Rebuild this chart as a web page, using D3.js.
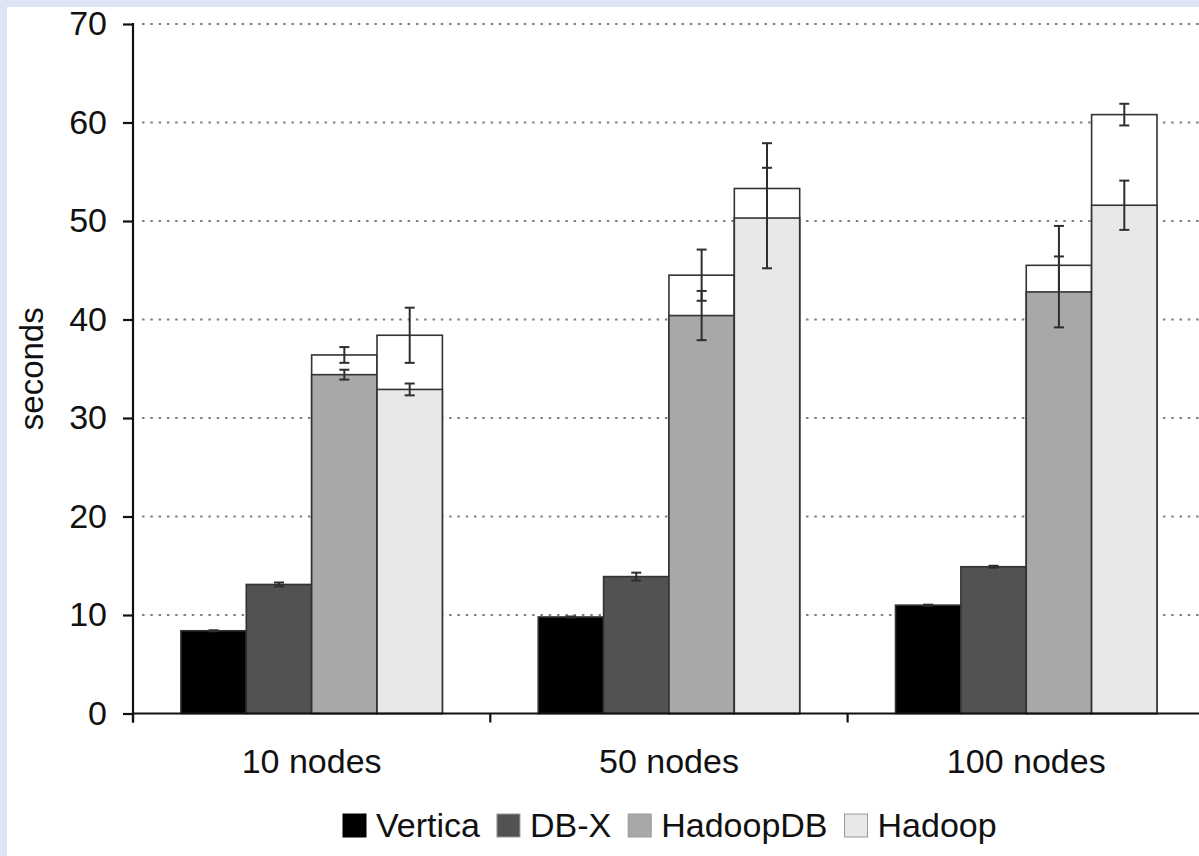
<!DOCTYPE html>
<html>
<head>
<meta charset="utf-8">
<script src="https://cdn.jsdelivr.net/npm/d3@7"></script>
<style>
  html, body { margin: 0; padding: 0; background: #dfe4f5; }
  svg { display: block; }
  text { font-family: "Liberation Sans", Arial, Helvetica, sans-serif; fill: #111; }
</style>
</head>
<body>
<svg id="chart" width="1199" height="856"></svg>
<script>
// ---- data ----
const categories = ["10 nodes", "50 nodes", "100 nodes"];
const seriesNames = ["Vertica", "DB-X", "HadoopDB", "Hadoop"];
const seriesColors = ["#000000", "#525252", "#a8a8a8", "#e8e8e8"];
const yTicks = [0, 10, 20, 30, 40, 50, 60, 70];

// filled (lower) part of each bar and its error
const verticaBase = [8.4, 9.8, 11.0];
const verticaBaseErr = [0.05, 0.05, 0.05];
const dbxBase = [13.1, 13.9, 14.9];
const dbxBaseErr = [0.2, 0.4, 0.1];
const hadoopdbBase = [34.4, 40.4, 42.8];
const hadoopdbBaseErr = [0.5, 2.5, 3.6];
const hadoopBase = [32.9, 50.3, 51.6];
const hadoopBaseErr = [0.6, 5.1, 2.5];

// white (upper) total part of each bar and its error (null = none)
const verticaTotal = [null, null, null];
const verticaTotalErr = [null, null, null];
const dbxTotal = [null, null, null];
const dbxTotalErr = [null, null, null];
const hadoopdbTotal = [36.4, 44.5, 45.5];
const hadoopdbTotalErr = [0.8, 2.6, 4.0];
const hadoopTotal = [38.4, 53.3, 60.8];
const hadoopTotalErr = [2.8, 4.6, 1.1];

const baseBySeries = [verticaBase, dbxBase, hadoopdbBase, hadoopBase];
const baseErrBySeries = [verticaBaseErr, dbxBaseErr, hadoopdbBaseErr, hadoopBaseErr];
const totalBySeries = [verticaTotal, dbxTotal, hadoopdbTotal, hadoopTotal];
const totalErrBySeries = [verticaTotalErr, dbxTotalErr, hadoopdbTotalErr, hadoopTotalErr];

// ---- layout ----
const svg = d3.select("#chart");
svg.append("rect").attr("x", 7).attr("y", 7).attr("width", 1199).attr("height", 856).attr("fill", "#fff");

const axisX = 133;
const bandW = 357.3;
const fontSize = 34;
const x0 = d3.scaleBand().domain(categories).range([axisX, axisX + bandW * categories.length]).paddingInner(0).paddingOuter(0);
const x1 = d3.scaleBand().domain(seriesNames).range([0, x0.bandwidth()]).paddingInner(0).paddingOuter(0.733);
const y = d3.scaleLinear().domain([0, 70]).range([713.5, 24]);

// gridlines
svg.append("g").selectAll("line").data(yTicks.filter(d => d > 0)).join("line")
  .attr("x1", axisX + 9).attr("x2", 1199)
  .attr("y1", d => y(d)).attr("y2", d => y(d))
  .attr("stroke", "#808080").attr("stroke-width", 2)
  .attr("stroke-dasharray", "2.5,5.8");

// bars
const rows = [];
categories.forEach((c, ci) => {
  seriesNames.forEach((s, si) => {
    rows.push({
      cat: c, s: s, si: si,
      base: baseBySeries[si][ci], baseErr: baseErrBySeries[si][ci],
      total: totalBySeries[si][ci], totalErr: totalErrBySeries[si][ci]
    });
  });
});

const barStroke = "#333";
const errColor = "#2e2e2e";
const capHalf = 5;

function errorBar(g, cx, v, e) {
  g.append("line").attr("x1", cx).attr("x2", cx).attr("y1", y(v + e)).attr("y2", y(v - e))
    .attr("stroke", errColor).attr("stroke-width", 2);
  [v + e, v - e].forEach(t => {
    g.append("line").attr("x1", cx - capHalf).attr("x2", cx + capHalf).attr("y1", y(t)).attr("y2", y(t))
      .attr("stroke", errColor).attr("stroke-width", 2);
  });
}

const barsG = svg.append("g");
rows.forEach(r => {
  const g = barsG.append("g");
  const bx = x0(r.cat) + x1(r.s);
  const bw = x1.bandwidth();
  const cx = bx + bw / 2;
  if (r.total != null) {
    g.append("rect").attr("x", bx).attr("y", y(r.total)).attr("width", bw).attr("height", y(0) - y(r.total))
      .attr("fill", "#fff").attr("stroke", barStroke).attr("stroke-width", 1.6);
    errorBar(g, cx, r.total, r.totalErr);
  }
  g.append("rect").attr("x", bx).attr("y", y(r.base)).attr("width", bw).attr("height", y(0) - y(r.base))
    .attr("fill", seriesColors[r.si]).attr("stroke", barStroke).attr("stroke-width", 1.6);
  errorBar(g, cx, r.base, r.baseErr);
});

// y axis
const yAxis = d3.axisLeft(y).tickValues(yTicks).tickSize(10).tickPadding(16);
const yG = svg.append("g").attr("transform", `translate(${axisX},0)`).call(yAxis);
yG.select(".domain").remove();
yG.selectAll(".tick line").attr("stroke", "#111").attr("stroke-width", 2.2);
yG.selectAll(".tick text").attr("font-size", fontSize).attr("fill", "#111")
  .attr("font-family", '"Liberation Sans", Arial, sans-serif');
svg.append("line").attr("x1", axisX).attr("x2", axisX).attr("y1", y(70) - 1).attr("y2", y(0) + 9)
  .attr("stroke", "#111").attr("stroke-width", 2.2);

// x axis
svg.append("line").attr("x1", axisX).attr("x2", 1199).attr("y1", y(0)).attr("y2", y(0))
  .attr("stroke", "#111").attr("stroke-width", 2.2);
svg.append("g").selectAll("line").data(categories).join("line")
  .attr("x1", d => x0(d)).attr("x2", d => x0(d))
  .attr("y1", y(0)).attr("y2", y(0) + 9)
  .attr("stroke", "#111").attr("stroke-width", 2.2);
svg.append("g").selectAll("text").data(categories).join("text")
  .attr("x", d => x0(d) + x0.bandwidth() / 2).attr("y", 773)
  .attr("text-anchor", "middle").attr("font-size", fontSize).text(d => d);

// y axis title
svg.append("text").attr("transform", `translate(43,${(y(0) + y(70)) / 2}) rotate(-90)`)
  .attr("text-anchor", "middle").attr("font-size", 33).text("seconds");

// legend
const legG = svg.append("g");
let lx = 343;
seriesNames.forEach((s, i) => {
  legG.append("rect").attr("x", lx).attr("y", 814).attr("width", 23).attr("height", 23)
    .attr("fill", seriesColors[i]).attr("stroke", i === 0 ? "#000" : "#999").attr("stroke-width", 1);
  const t = legG.append("text").attr("x", lx + 33).attr("y", 837).attr("font-size", fontSize).text(s);
  lx += 33 + t.node().getComputedTextLength() + 17;
});
</script>
</body>
</html>
